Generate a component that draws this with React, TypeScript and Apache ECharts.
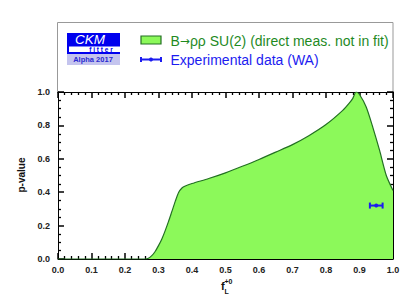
import React, { useEffect, useRef } from "react";
import * as echarts from "echarts";

const fL: number[] = [0, 0.26, 0.27, 0.28, 0.29, 0.30, 0.31, 0.32, 0.33, 0.34, 0.35, 0.36, 0.37, 0.38, 0.40, 0.45, 0.50, 0.55, 0.60, 0.65, 0.70, 0.75, 0.80, 0.85, 0.87, 0.88, 0.89, 0.90, 0.92, 0.94, 0.96, 0.98, 1.0];
const pValue: number[] = [0, 0, 0.005, 0.02, 0.045, 0.08, 0.12, 0.17, 0.225, 0.285, 0.345, 0.398, 0.425, 0.437, 0.452, 0.482, 0.516, 0.555, 0.596, 0.64, 0.685, 0.74, 0.805, 0.89, 0.935, 0.962, 1.0, 0.985, 0.91, 0.787, 0.65, 0.50, 0.41];

// Experimental data (WA): [central, p-value position, low, high]
const expData: number[][] = [[0.950, 0.32, 0.931, 0.969]];

const legendLabels: string[] = ["B\u2192\u03c1\u03c1 SU(2) (direct meas. not in fit)", "Experimental data (WA)"];

const GREEN_FILL = "#8cf95a";
const GREEN_LINE = "#237023";
const BLUE = "#1c1cf0";

export default function App() {
  const ref = useRef<HTMLDivElement>(null);
  useEffect(() => {
    if (!ref.current) return;
    const chart = echarts.init(ref.current, undefined, { renderer: "svg" });
    const font = "'Liberation Sans', Arial, Helvetica, sans-serif";
    const axisCommon = (show: boolean) => ({
      type: "value" as const,
      min: 0,
      max: 1,
      axisLine: { show: true, onZero: false, lineStyle: { color: "#000", width: 1 } },
      axisTick: { show: true, inside: true, length: 6, lineStyle: { color: "#000", width: 1.5 } },
      minorTick: { show: true, length: 3, lineStyle: { color: "#000", width: 1.3 } },
      splitLine: { show: false },
      axisLabel: {
        show,
        fontFamily: font,
        fontWeight: "bold" as const,
        fontSize: 9,
        color: "#222",
        formatter: (v: number) => v.toFixed(1),
      },
    });
    const xa = (pos: "bottom" | "top") => {
      const a: any = axisCommon(pos === "bottom");
      a.position = pos;
      a.interval = 0.1;
      a.minorTick.splitNumber = 5;
      a.axisLabel.margin = 6;
      return a;
    };
    const ya = (pos: "left" | "right") => {
      const a: any = axisCommon(pos === "left");
      a.position = pos;
      a.interval = 0.2;
      a.minorTick.splitNumber = 4;
      a.axisLabel.margin = 8;
      return a;
    };

    const lineData = fL.map((x, i) => [x, pValue[i]]);
    const arrowIdx = legendLabels[0].indexOf("\u2192");
    const l1a = legendLabels[0].slice(0, arrowIdx);
    const l1b = legendLabels[0].slice(arrowIdx, arrowIdx + 1);
    const l1c = legendLabels[0].slice(arrowIdx + 1);

    const option: any = {
      animation: false,
      grid: { left: 58, right: 21, top: 92, bottom: 44 },
      xAxis: [xa("bottom"), xa("top")],
      yAxis: [ya("left"), ya("right")],
      series: [
        {
          type: "line",
          xAxisIndex: 0,
          yAxisIndex: 0,
          data: lineData,
          showSymbol: false,
          smooth: 0.25,
          lineStyle: { color: GREEN_LINE, width: 1.2 },
          areaStyle: { color: GREEN_FILL, opacity: 1 },
          z: 1,
        },
        {
          type: "custom",
          xAxisIndex: 0,
          yAxisIndex: 0,
          data: expData,
          z: 5,
          renderItem: (params: any, api: any) => {
            const c = api.coord([api.value(0), api.value(1)]);
            const lo = api.coord([api.value(2), api.value(1)]);
            const hi = api.coord([api.value(3), api.value(1)]);
            const st = { stroke: BLUE, lineWidth: 2 };
            return {
              type: "group",
              children: [
                { type: "line", shape: { x1: lo[0], y1: c[1], x2: hi[0], y2: c[1] }, style: st },
                { type: "line", shape: { x1: lo[0], y1: c[1] - 3, x2: lo[0], y2: c[1] + 3 }, style: st },
                { type: "line", shape: { x1: hi[0], y1: c[1] - 3, x2: hi[0], y2: c[1] + 3 }, style: st },
                { type: "circle", shape: { cx: c[0], cy: c[1], r: 2 }, style: { fill: BLUE } },
              ],
            };
          },
        },
      ],
      graphic: [
        // legend frame
        { type: "rect", shape: { x: 57.5, y: 22.5, width: 335.5, height: 70 }, style: { fill: "none", stroke: "#999", lineWidth: 1 }, z: 0 },
        // logo
        { type: "rect", shape: { x: 67, y: 33, width: 53, height: 21 }, style: { fill: "#0000ee" } },
        { type: "rect", shape: { x: 69, y: 46.5, width: 51, height: 5.5 }, style: { fill: "#ffffff" } },
        { type: "rect", shape: { x: 67, y: 54, width: 53, height: 11 }, style: { fill: "#c4c4ee" } },
        { type: "text", x: 90, y: 39.2, style: { text: "CKM", fill: "#fff", font: `italic 13.5px ${font}`, align: "center", verticalAlign: "middle" } },
        { type: "text", x: 101, y: 49.8, style: { text: "f i t t e r", fill: "#0000ee", font: `bold 6.5px ${font}`, align: "center", verticalAlign: "middle" } },
        { type: "text", x: 93, y: 59.8, style: { text: "Alpha 2017", fill: "#2a2ad0", font: `bold 7.5px ${font}`, align: "center", verticalAlign: "middle" } },
        // legend entries
        { type: "rect", shape: { x: 141, y: 36, width: 20, height: 8 }, style: { fill: GREEN_FILL, stroke: GREEN_LINE, lineWidth: 1.2 } },
        {
          type: "text", x: 170.5, y: 40.5,
          style: {
            text: `{a|${l1a}}{b|${l1b}}{a|${l1c}}`,
            align: "left", verticalAlign: "middle",
            rich: {
              a: { fill: "#1f8a1f", fontFamily: font, fontSize: 14 },
              b: { fill: "#1f8a1f", fontFamily: "'DejaVu Sans', sans-serif", fontSize: 12 },
            },
          },
        },
        { type: "line", shape: { x1: 141, y1: 59.5, x2: 161, y2: 59.5 }, style: { stroke: BLUE, lineWidth: 2 } },
        { type: "line", shape: { x1: 141, y1: 57, x2: 141, y2: 62 }, style: { stroke: BLUE, lineWidth: 2 } },
        { type: "line", shape: { x1: 161, y1: 57, x2: 161, y2: 62 }, style: { stroke: BLUE, lineWidth: 2 } },
        { type: "circle", shape: { cx: 151, cy: 59.5, r: 2 }, style: { fill: BLUE } },
        { type: "text", x: 170.5, y: 59.8, style: { text: legendLabels[1], fill: BLUE, font: `14px ${font}`, align: "left", verticalAlign: "middle" } },
        // axis titles
        { type: "text", x: 21, y: 175, rotation: Math.PI / 2, style: { text: "p-value", fill: "#111", font: `bold 10px ${font}`, align: "center", verticalAlign: "middle" } },
        { type: "text", x: 221, y: 285.5, style: { text: "f", fill: "#111", font: `bold 11px ${font}`, align: "left", verticalAlign: "middle" } },
        { type: "text", x: 224.5, y: 281, style: { text: "+0", fill: "#111", font: `bold 7px ${font}`, align: "left", verticalAlign: "middle" } },
        { type: "text", x: 224.5, y: 291, style: { text: "L", fill: "#111", font: `bold 7px ${font}`, align: "left", verticalAlign: "middle" } },
      ],
    };
    chart.setOption(option);
    return () => chart.dispose();
  }, []);
  return <div ref={ref} style={{ position: "fixed", left: 0, top: 0, width: 414, height: 303, background: "#fff" }} />;
}
